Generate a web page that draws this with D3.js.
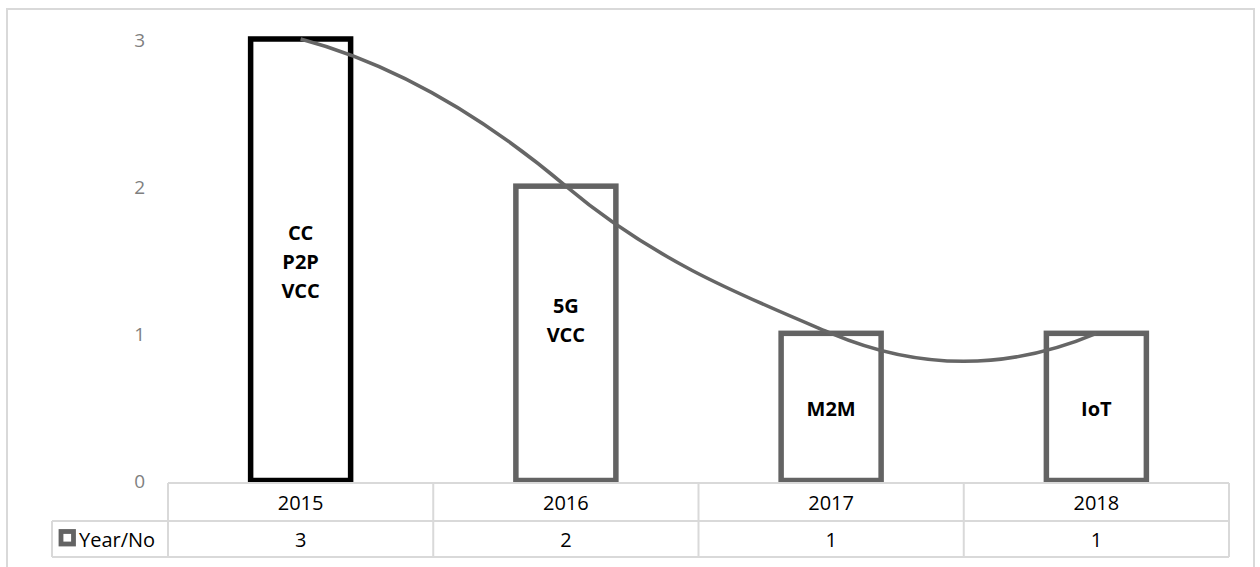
<!DOCTYPE html>
<html>
<head>
<meta charset="utf-8">
<script src="https://cdn.jsdelivr.net/npm/d3@7"></script>
<style>
  body { margin: 0; background: #fff; }
  svg { display: block; font-family: "Open Sans", "Noto Sans", sans-serif; }
</style>
</head>
<body>
<svg id="chart" width="1260" height="567"></svg>
<script>
// data
const years = ['2015', '2016', '2017', '2018'];
const counts = [3, 2, 1, 1];
const barLabels = [['CC', 'P2P', 'VCC'], ['5G', 'VCC', ''], ['M2M'], ['IoT']];
const yTicks = [0, 1, 2, 3];
const seriesName = 'Year/No';

const svg = d3.select('#chart');
const gridColor = '#d9d9d9';
const barGray = '#636363';

// outer chart border
svg.append('rect')
  .attr('x', 7).attr('y', 9)
  .attr('width', 1247).attr('height', 570)
  .attr('fill', 'none')
  .attr('stroke', gridColor)
  .attr('stroke-width', 2);

const x = d3.scaleBand().domain(years).range([168, 1229]);
const y = d3.scaleLinear().domain([0, 3]).range([480.5, 39]);
const barW = x.bandwidth() * 0.377;
const cx = d => x(d) + x.bandwidth() / 2;

// y axis labels
const yAxis = svg.append('g')
  .attr('transform', 'translate(145,1)')
  .call(d3.axisLeft(y).tickValues(yTicks).tickFormat(d3.format('d')).tickSize(0).tickPadding(0));
yAxis.select('.domain').remove();
yAxis.selectAll('text')
  .attr('fill', '#7f7f7f')
  .style('font-size', '19px')
  .style('font-family', '"Open Sans", sans-serif');

// bars
const data = years.map((yr, i) => ({ year: yr, value: counts[i], lines: barLabels[i], i }));
svg.append('g').selectAll('rect')
  .data(data)
  .enter()
  .append('rect')
  .attr('x', d => cx(d.year) - barW / 2)
  .attr('y', d => y(d.value))
  .attr('width', barW)
  .attr('height', d => y(0) - y(d.value))
  .attr('fill', 'none')
  .attr('stroke', d => d.i === 0 ? '#000' : barGray)
  .attr('stroke-width', 5.5);

// smoothed line (hermite with excel-like tangents)
const pts = data.map(d => [cx(d.year), y(d.value)]);
const s = 0.76;
const n = pts.length;
const m = pts.map((p, i) => (i > 0 && i < n - 1) ? s * (pts[i + 1][1] - pts[i - 1][1]) : 0);
m[0] = 2 * (pts[1][1] - pts[0][1]) - m[1];
m[n - 1] = 2 * (pts[n - 1][1] - pts[n - 2][1]) - m[n - 2];
const path = d3.path();
path.moveTo(pts[0][0], pts[0][1]);
for (let i = 0; i < n - 1; i++) {
  const h = pts[i + 1][0] - pts[i][0];
  path.bezierCurveTo(
    pts[i][0] + h / 3, pts[i][1] + m[i] / 3,
    pts[i + 1][0] - h / 3, pts[i + 1][1] - m[i + 1] / 3,
    pts[i + 1][0], pts[i + 1][1]);
}
svg.append('path')
  .attr('d', path.toString())
  .attr('fill', 'none')
  .attr('stroke', '#666')
  .attr('stroke-width', 3.5);

// bar labels
const labelG = svg.append('g');
data.forEach(d => {
  const mid = (y(d.value) + y(0)) / 2 + 2;
  d.lines.forEach((t, k) => {
    labelG.append('text')
      .attr('x', cx(d.year))
      .attr('y', mid + (k - (d.lines.length - 1) / 2) * 29)
      .attr('dy', '0.35em')
      .attr('text-anchor', 'middle')
      .style('font-size', '20px')
      .style('font-weight', 'bold')
      .attr('fill', '#000')
      .text(t);
  });
});

// data table
const tTop = 483, tMid = 521, tBot = 557, legendLeft = 52;
const right = x.range()[1];
const table = svg.append('g')
  .attr('stroke', gridColor)
  .attr('stroke-width', 2);
table.append('line').attr('x1', 168).attr('x2', right).attr('y1', tTop).attr('y2', tTop);
table.append('line').attr('x1', legendLeft).attr('x2', right).attr('y1', tMid).attr('y2', tMid);
table.append('line').attr('x1', legendLeft).attr('x2', right).attr('y1', tBot).attr('y2', tBot);
table.append('line').attr('x1', legendLeft).attr('x2', legendLeft).attr('y1', tMid).attr('y2', tBot);
table.selectAll('.vdiv')
  .data(years.map(d => x(d)).concat([right]))
  .enter()
  .append('line')
  .attr('class', 'vdiv')
  .attr('x1', d => d).attr('x2', d => d)
  .attr('y1', tTop).attr('y2', tBot);

// year header
const xAxis = svg.append('g')
  .attr('transform', `translate(0,${tTop})`)
  .call(d3.axisBottom(x).tickSize(0).tickPadding(0));
xAxis.select('.domain').remove();
xAxis.selectAll('text')
  .attr('y', (tMid - tTop) / 2 + 1)
  .attr('dy', '0.35em')
  .attr('fill', '#000')
  .style('font-size', '20px')
  .style('font-family', '"Open Sans", sans-serif');

// values row
svg.append('g').selectAll('text')
  .data(data)
  .enter()
  .append('text')
  .attr('x', d => cx(d.year))
  .attr('y', (tMid + tBot) / 2 + 1)
  .attr('dy', '0.35em')
  .attr('text-anchor', 'middle')
  .style('font-size', '20px')
  .attr('fill', '#000')
  .text(d => d.value);

// legend key
svg.append('rect')
  .attr('x', 61).attr('y', 531.5)
  .attr('width', 12.5).attr('height', 12.5)
  .attr('fill', '#fff')
  .attr('stroke', barGray)
  .attr('stroke-width', 4.8);
svg.append('text')
  .attr('x', 79)
  .attr('y', (tMid + tBot) / 2 + 1)
  .attr('dy', '0.35em')
  .style('font-size', '20px')
  .attr('fill', '#000')
  .text(seriesName);
</script>
</body>
</html>
